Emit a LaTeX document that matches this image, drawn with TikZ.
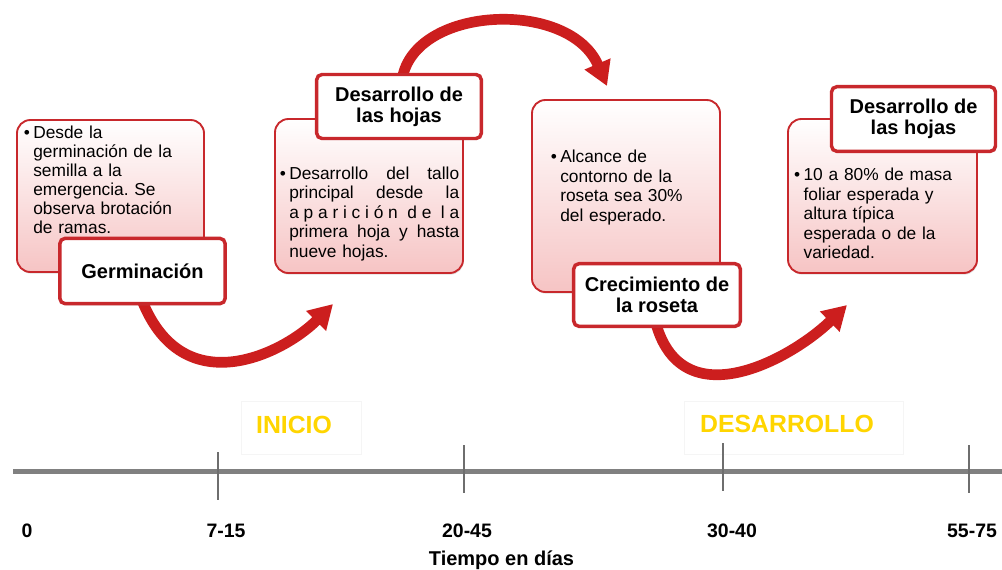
\documentclass[tikz,border=0pt]{standalone}
\usepackage{fontspec}
\setmainfont{Liberation Sans}
\usetikzlibrary{arrows.meta,shadows,fit}
\definecolor{boxred}{HTML}{C8282C}
\definecolor{pinkbot}{HTML}{F6C4C4}
\definecolor{arrowred}{HTML}{CC1E1E}
\definecolor{axisgray}{HTML}{808080}
\definecolor{tickgray}{HTML}{6E6E6E}
\definecolor{phasegold}{HTML}{FFD500}
\newcommand{\jline}[1]{\leavevmode\hbox to 127.5pt{#1}}
\frenchspacing
\begin{document}
\begin{tikzpicture}[x=0.75pt,y=-0.75pt,
  pinkbox/.style={draw=boxred,line width=1.4pt,rounded corners=10pt,top color=white,bottom color=pinkbot,inner sep=0pt,
    drop shadow={shadow xshift=0.6pt,shadow yshift=-1.2pt,opacity=0.25}},
  labelbox/.style={draw=boxred,line width=2.6pt,fill=white,rounded corners=4pt,align=center,inner sep=0pt,
    font=\fontsize{15}{15.5}\selectfont\bfseries,
    drop shadow={shadow xshift=0.6pt,shadow yshift=-1.2pt,opacity=0.25}},
  bodytext/.style={anchor=north west,inner sep=0pt,align=left,font=\fontsize{13}{14.6}\selectfont},
  bigarrow/.style={draw=arrowred,line width=8pt,-{Triangle[length=18pt,width=20pt]}},
  axis/.style={draw=axisgray,line width=3.75pt},
  tick/.style={draw=tickgray,line width=1.4pt},
  daylabel/.style={anchor=base,inner sep=0pt,font=\fontsize{14.6}{16}\selectfont\bfseries},
  phasebox/.style={draw=black!4,fill=white,line width=0.6pt,
    drop shadow={shadow xshift=0.8pt,shadow yshift=-0.8pt,opacity=0.05}},
  phasetext/.style={anchor=base,inner sep=0pt,text=phasegold,font=\fontsize{18.6}{20}\selectfont\bfseries}
]
\useasboundingbox (0,0) rectangle (1002,569);
\fill[white] (0,0) rectangle (1002,569);

% pink boxes
\node[pinkbox,fit={(17,120) (204,272)}] (b1) {};
\node[pinkbox,fit={(275,119) (463,273)}] (b2) {};
\node[pinkbox,fit={(532,100) (720,292)}] (b3) {};
\node[pinkbox,fit={(788,119) (977,273)}] (b4) {};

% body texts
\node[bodytext,text width=135pt,font=\fontsize{13}{14.3}\selectfont] (t1) at (23,125.5) {\leftskip=7.5pt\leavevmode\llap{•\hspace{2.5pt}}Desde la\\
germinación de la\\ semilla a la\\ emergencia. Se\\ observa brotación\\ de ramas.\par};
\node[bodytext,text width=136pt] (t2) at (281,166.5) {\leftskip=6pt\leavevmode\llap{•\hspace{2.5pt}}\jline{Desarrollo\hfill del\hfill tallo}\\
\jline{principal\hfill desde\hfill la}\\
\jline{a\hfill p\hfill a\hfill r\hfill i\hfill c\hfill i\hfill ó\hfill n\hfill\hfill d\hfill e\hfill\hfill l\hfill a}\\
\jline{primera\hfill hoja\hfill y\hfill hasta}\\
nueve hojas.\par};
\node[bodytext,text width=125pt] (t3) at (552,150) {\leftskip=6pt\leavevmode\llap{•\hspace{2.5pt}}Alcance de\\
contorno de la\\ roseta sea 30\%\\ del esperado.\par};
\node[bodytext,text width=125pt] (t4) at (796,168) {\leftskip=5.5pt\leavevmode\llap{•\hspace{2.5pt}}10 a 80\% de masa\\
foliar esperada y\\ altura típica\\ esperada o de la\\ variedad.\par};

% arrows
\coordinate (a1s) at (140,295);
\coordinate (a1e) at (333,304);
\coordinate (a2s) at (403,75);
\coordinate (a2e) at (607,86);
\coordinate (a3s) at (655,320);
\coordinate (a3e) at (847,305);
\draw[bigarrow] (a1s) .. controls (180,406) and (283,354) .. (a1e);
\draw[bigarrow] (a2s) .. controls (420,5) and (570,0) .. (a2e);
\draw[bigarrow] (a3s) .. controls (680,420) and (790,360) .. (a3e);

% label boxes
\node[labelbox,minimum width=124pt,minimum height=49pt] (l1) at (142.5,271) {Germinación};
\node[labelbox,minimum width=123.5pt,minimum height=48pt] (l2) at (399,106.5) {Desarrollo de\\ las hojas};
\node[labelbox,minimum width=125pt,minimum height=47pt] (l3) at (657,295) {Crecimiento de\\ la roseta};
\node[labelbox,minimum width=123pt,minimum height=48.5pt] (l4) at (913.5,119) {Desarrollo de\\ las hojas};

% phase boxes
\node[phasebox,fit={(241,401) (361,454)},inner sep=0pt] (p1) {};
\node[phasebox,fit={(684,401) (903,454)},inner sep=0pt] (p2) {};
\node[phasetext] (p1t) at (294,433) {INICIO};
\node[phasetext] (p2t) at (787,432) {DESARROLLO};

% time axis
\coordinate (ax0) at (13,471);
\coordinate (ax1) at (1002,471);
\draw[axis] (ax0) -- (ax1);
\coordinate (k1t) at (218,452); \coordinate (k1b) at (218,500);
\coordinate (k2t) at (464,445); \coordinate (k2b) at (464,493);
\coordinate (k3t) at (723,443); \coordinate (k3b) at (723,491);
\coordinate (k4t) at (969,445); \coordinate (k4b) at (969,493);
\draw[tick] (k1t) -- (k1b);
\draw[tick] (k2t) -- (k2b);
\draw[tick] (k3t) -- (k3b);
\draw[tick] (k4t) -- (k4b);

\node[daylabel] (d0) at (27,537) {0};
\node[daylabel] (d1) at (226,537) {7-15};
\node[daylabel] (d2) at (467,537) {20-45};
\node[daylabel] (d3) at (732,537) {30-40};
\node[daylabel] (d4) at (972,537) {55-75};
\node[anchor=base,inner sep=0pt,font=\fontsize{15}{16}\selectfont\bfseries] (tiempo) at (501.5,565) {Tiempo en días};
\end{tikzpicture}
\end{document}
